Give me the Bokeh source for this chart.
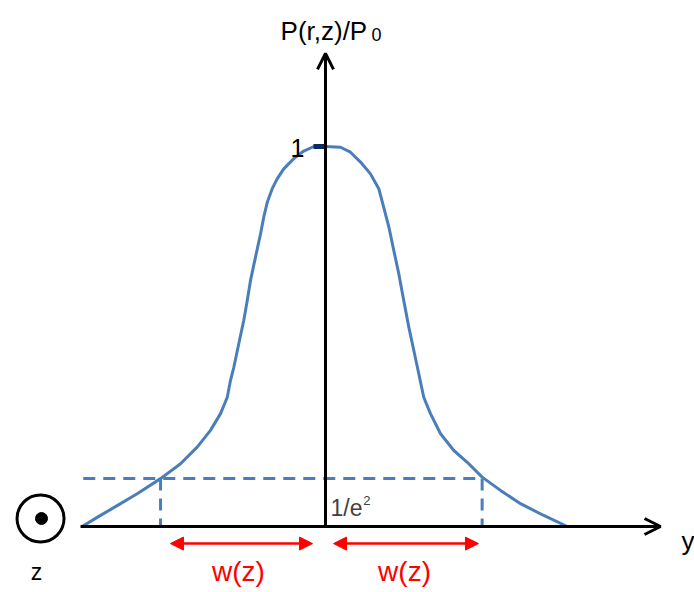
from bokeh.plotting import figure
from bokeh.models import Range1d, Arrow, OpenHead, NormalHead
from bokeh.core.properties import value
from bokeh.embed import file_html
from bokeh.resources import INLINE

# ---- data (x in units of beam radius, y = P(r,z)/P0) ----
profile_x = [-1.521, -1.427, -1.302, -1.177, -1.031, -0.906, -0.802, -0.719, -0.656, -0.614,
             -0.594, -0.573, -0.542, -0.511, -0.489, -0.469, -0.4375, -0.406, -0.386, -0.364,
             -0.333, -0.302, -0.261, -0.198, -0.136, -0.073, 0.0, 0.094, 0.156, 0.219,
             0.281, 0.333, 0.364, 0.396, 0.427, 0.458, 0.489, 0.521, 0.552, 0.583,
             0.614, 0.656, 0.719, 0.802, 0.886, 0.979, 1.094, 1.219, 1.364, 1.511]
profile_y = [0.0, 0.024, 0.055, 0.086, 0.126, 0.165, 0.209, 0.253, 0.297, 0.340,
             0.384, 0.419, 0.481, 0.542, 0.595, 0.647, 0.709, 0.770, 0.814, 0.853,
             0.889, 0.915, 0.941, 0.968, 0.988, 1.0, 1.0, 0.998, 0.985, 0.959,
             0.928, 0.889, 0.840, 0.788, 0.726, 0.665, 0.595, 0.524, 0.463, 0.402,
             0.340, 0.297, 0.244, 0.200, 0.169, 0.130, 0.095, 0.060, 0.029, 0.0]

level_e2 = 0.126            # 1/e^2 level
width_left = -1.031         # w(z) on the left
width_right = 0.979         # w(z) on the right
level_start_x = -1.514      # start of dashed 1/e^2 line
peak_value = 1.0
peak_tick_x = [-0.075, 0.0]

axis_x_extent = [-1.531, 2.094]   # horizontal axis (y direction)
axis_y_extent = [0.0, 1.245]      # vertical axis P/P0
w_arrow_y = -0.045
w_left_extent = [-0.969, -0.081]
w_right_extent = [0.05, 0.956]

labels_title = ["P(r,z)/P", "0"]
label_one = "1"
labels_e2 = ["1/e", "2"]
label_w = "w(z)"
label_z = "z"
label_y = "y"

FONT = value("Liberation Sans")
BLUE = "#4A7EBB"

p = figure(width=694, height=592,
           x_range=Range1d(-2.03125, 2.30625), y_range=Range1d(-0.17368, 1.38421),
           output_backend="svg", toolbar_location=None, min_border=0)
p.axis.visible = False
p.grid.visible = False
p.outline_line_color = None
p.background_fill_color = "white"

# dashed 1/e^2 guides
p.line([level_start_x, width_right], [level_e2, level_e2], line_color=BLUE, line_width=3, line_dash="12 8")
p.line([width_left, width_left], [level_e2, 0], line_color=BLUE, line_width=3, line_dash="12 8")
p.line([width_right, width_right], [level_e2, 0], line_color=BLUE, line_width=3, line_dash="12 8")

# profile curve
p.line(profile_x, profile_y, line_color=BLUE, line_width=3, line_join="round")

# axes with open arrow heads
p.add_layout(Arrow(end=OpenHead(size=16, line_width=3, line_color="black"),
                   x_start=axis_x_extent[0], y_start=0, x_end=axis_x_extent[1], y_end=0,
                   line_width=3, line_color="black"))
p.add_layout(Arrow(end=OpenHead(size=16, line_width=3, line_color="black"),
                   x_start=0, y_start=axis_y_extent[0], x_end=0, y_end=axis_y_extent[1],
                   line_width=3, line_color="black"))

# peak tick
p.line(peak_tick_x, [peak_value, peak_value], line_color="#0B2A5E", line_width=5)

# w(z) arrows
for ext in (w_left_extent, w_right_extent):
    p.add_layout(Arrow(start=NormalHead(size=13, fill_color="red", line_color="red", line_width=1),
                       end=NormalHead(size=13, fill_color="red", line_color="red", line_width=1),
                       x_start=ext[0], y_start=w_arrow_y, x_end=ext[1], y_end=w_arrow_y,
                       line_width=2.5, line_color="red"))

# z-direction symbol (out of page)
p.scatter([-1.781], [0.021], marker="circle", size=47, fill_color=None, line_color="black", line_width=3)
p.scatter([-1.775], [0.021], marker="circle", size=12, fill_color="black", line_color="black")

# texts
p.text([-0.281], [1.303], text=[labels_title[0]], text_font=FONT, text_font_size=value("26px"),
       text_color="black", text_baseline="alphabetic", text_align="left")
p.text([0.288], [1.295], text=[labels_title[1]], text_font=FONT, text_font_size=value("18px"),
       text_color="black", text_baseline="alphabetic", text_align="left")
p.text([-0.219], [0.995], text=[label_one], text_font=FONT, text_font_size=value("25px"),
       text_color="black", text_baseline="alphabetic", text_align="left")
p.text([0.031], [0.05], text=[labels_e2[0]], text_font=FONT, text_font_size=value("23px"),
       text_color="#404040", text_baseline="alphabetic", text_align="left")
p.text([0.236], [0.068], text=[labels_e2[1]], text_font=FONT, text_font_size=value("13px"),
       text_color="#404040", text_baseline="alphabetic", text_align="left")
p.text([-0.544, 0.494], [-0.158, -0.158], text=[label_w, label_w], text_font=FONT,
       text_font_size=value("28px"), text_color="red", text_baseline="bottom", text_align="center")
p.text([-1.806], [-0.121], text=[label_z], text_font=FONT, text_font_size=value("23px"),
       text_color="black", text_baseline="alphabetic", text_align="center")
p.text([2.225], [-0.037], text=[label_y], text_font=FONT, text_font_size=value("26px"),
       text_color="black", text_baseline="alphabetic", text_align="left")

open("out.html", "w").write(file_html(p, INLINE))
